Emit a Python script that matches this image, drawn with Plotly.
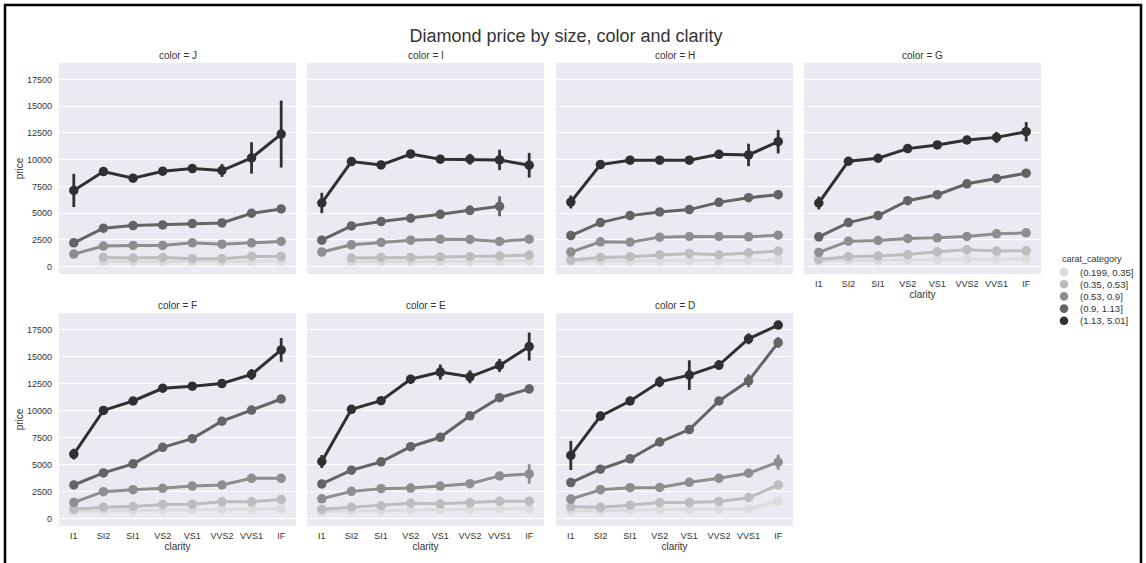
import plotly.graph_objects as go

# ---------------- data ----------------
clarity = ["I1", "SI2", "SI1", "VS2", "VS1", "VVS2", "VVS1", "IF"]
diamond_colors = ["J", "I", "H", "G", "F", "E", "D"]
carat_categories = ["(0.199, 0.35]", "(0.35, 0.53]", "(0.53, 0.9]", "(0.9, 1.13]", "(1.13, 5.01]"]
y_ticks = [0, 2500, 5000, 7500, 10000, 12500, 15000, 17500]
y_tick_labels = ["0", "2500", "5000", "7500", "10000", "12500", "15000", "17500"]

# mean price per carat category (rows: lightest -> darkest), per clarity
price_J = [
    [None, 460, 470, 480, 470, 460, 500, 520],
    [None, 865, 805, 865, 745, 745, 960, 960],
    [1175, 1920, 1985, 1985, 2230, 2105, 2230, 2355],
    [2230, 3595, 3840, 3905, 4025, 4090, 4990, 5390],
    [7125, 8890, 8270, 8920, 9170, 8985, 10160, 12390],
]
err_J = [
    [0, 30, 30, 30, 30, 30, 40, 40],
    [0, 40, 40, 40, 40, 40, 60, 60],
    [80, 80, 60, 60, 80, 80, 100, 200],
    [150, 150, 100, 100, 150, 250, 400, 150],
    [1550, 350, 250, 300, 350, 600, 1470, 3130],
]
price_I = [
    [None, 460, 480, 490, 500, 510, 520, 540],
    [None, 805, 865, 865, 900, 930, 990, 1085],
    [1365, 2045, 2260, 2480, 2570, 2540, 2355, 2570],
    [2480, 3810, 4215, 4525, 4895, 5265, 5640, None],
    [5950, 9820, 9510, 10530, 10040, 10040, 9975, 9480],
]
err_I = [
    [0, 30, 30, 30, 30, 30, 30, 40],
    [0, 40, 40, 40, 40, 40, 50, 50],
    [60, 60, 60, 60, 60, 80, 80, 100],
    [100, 100, 100, 100, 150, 450, 930, 0],
    [950, 200, 200, 300, 250, 500, 950, 1150],
]
price_H = [
    [500, 520, 540, 560, 580, 560, 600, 620],
    [620, 865, 930, 1115, 1240, 1115, 1300, 1455],
    [1365, 2325, 2290, 2760, 2820, 2820, 2790, 2945],
    [2910, 4120, 4770, 5110, 5330, 6010, 6445, 6725],
    [6040, 9540, 9945, 9945, 9945, 10500, 10440, 11680],
]
err_H = [
    [40, 30, 30, 30, 30, 30, 30, 40],
    [60, 40, 40, 40, 40, 40, 50, 60],
    [80, 60, 60, 60, 60, 60, 80, 100],
    [100, 100, 100, 100, 100, 150, 300, 150],
    [600, 200, 150, 150, 150, 400, 1050, 1100],
]
price_G = [
    [560, 600, 620, 650, 680, 700, 700, 720],
    [680, 930, 990, 1145, 1395, 1580, 1455, 1485],
    [1330, 2385, 2445, 2635, 2695, 2820, 3065, 3160],
    [2790, 4120, 4770, 6165, 6725, 7745, 8240, 8735],
    [5950, 9850, 10130, 11030, 11370, 11835, 12080, 12610],
]
err_G = [
    [40, 30, 30, 30, 30, 30, 30, 40],
    [60, 40, 40, 40, 40, 40, 50, 60],
    [80, 60, 60, 60, 60, 60, 80, 100],
    [100, 100, 100, 100, 100, 150, 150, 150],
    [600, 300, 250, 200, 200, 350, 500, 900],
]
price_F = [
    [680, 720, 760, 800, 820, 860, 880, 920],
    [870, 1055, 1120, 1305, 1335, 1555, 1555, 1775],
    [1495, 2490, 2675, 2800, 3015, 3110, 3730, 3730],
    [3110, 4230, 5070, 6595, 7400, 9020, 10045, 11070],
    [5970, 10015, 10885, 12065, 12255, 12500, 13340, 15610],
]
err_F = [
    [40, 30, 30, 30, 30, 30, 30, 40],
    [60, 40, 40, 40, 40, 40, 50, 80],
    [150, 60, 60, 60, 60, 60, 100, 250],
    [100, 100, 100, 150, 150, 150, 200, 200],
    [500, 300, 300, 300, 350, 400, 500, 1100],
]
price_E = [
    [650, 700, 760, 820, 830, 860, 900, 920],
    [870, 1055, 1180, 1430, 1370, 1460, 1615, 1615],
    [1835, 2520, 2770, 2830, 3015, 3235, 3950, 4135],
    [3205, 4480, 5255, 6655, 7525, 9515, 11195, 12005],
    [5285, 10110, 10915, 12905, 13560, 13125, 14180, 15925],
]
err_E = [
    [40, 30, 30, 30, 30, 30, 30, 40],
    [60, 40, 40, 40, 40, 40, 50, 80],
    [100, 60, 60, 60, 60, 60, 100, 900],
    [100, 100, 100, 100, 150, 200, 300, 400],
    [600, 300, 300, 400, 700, 600, 600, 1300],
]
price_D = [
    [700, 720, 780, 840, 860, 880, 900, 1620],
    [1090, 1055, 1245, 1495, 1495, 1585, 1930, 3110],
    [1805, 2675, 2860, 2890, 3360, 3730, 4200, 5225],
    [3330, 4570, 5535, 7090, 8240, 10885, 12750, 16295],
    [5845, 9485, 10885, 12660, 13280, 14215, 16640, 17915],
]
err_D = [
    [40, 30, 30, 30, 30, 30, 30, 100],
    [60, 40, 40, 40, 40, 40, 80, 200],
    [100, 60, 60, 60, 80, 80, 150, 700],
    [100, 100, 100, 150, 150, 200, 600, 500],
    [1350, 400, 300, 500, 1370, 450, 500, 150],
]

prices = [price_J, price_I, price_H, price_G, price_F, price_E, price_D]
errors = [err_J, err_I, err_H, err_G, err_F, err_E, err_D]

# ---------------- style ----------------
palette = ["#dcdcdc", "#bdbdbd", "#8e8e8e", "#646464", "#303030"]
W, H = 1146, 563
FONT = "Liberation Sans, Arial, sans-serif"
TXT = "#333333"

col_x = [(59, 296), (307, 544), (556, 793), (804, 1041)]
row_y = [(63, 274), (313, 526)]
row_title_y = [55, 305]
y_range = [-685, 19030]


def fx(px):
    return px / W


def fy(py):
    return 1 - py / H


fig = go.Figure()
annotations = []

for i, dc in enumerate(diamond_colors):
    n = i + 1
    r, c = divmod(i, 4)
    xa = "x" if n == 1 else f"x{n}"
    ya = "y" if n == 1 else f"y{n}"
    for k, cat in enumerate(carat_categories):
        fig.add_trace(go.Scatter(
            x=clarity, y=prices[i][k], xaxis=xa, yaxis=ya,
            mode="lines+markers", name=cat, showlegend=False,
            line=dict(color=palette[k], width=3),
            marker=dict(color=palette[k], size=9.5),
            error_y=dict(type="data", array=errors[i][k], visible=True,
                         color=palette[k], thickness=2.8, width=0),
            connectgaps=False,
        ))
    x0, x1 = col_x[c]
    y0, y1 = row_y[r]
    show_x = (r == 1) or (i == 3)
    show_y = (c == 0)
    fig.layout[f"xaxis{'' if n == 1 else n}"] = dict(
        domain=[fx(x0), fx(x1)], anchor=ya, type="category",
        categoryorder="array", categoryarray=clarity,
        range=[-0.5, len(clarity) - 0.5], showgrid=False, zeroline=False,
        showline=False, ticks="", showticklabels=show_x,
        tickfont=dict(size=9, color=TXT, family=FONT), ticklabelstandoff=3,
        title=dict(text="clarity" if show_x else "", font=dict(size=10, color=TXT, family=FONT), standoff=2),
    )
    fig.layout[f"yaxis{'' if n == 1 else n}"] = dict(
        domain=[fy(y1), fy(y0)], anchor=xa, range=y_range,
        tickvals=y_ticks, ticktext=y_tick_labels, showgrid=True,
        gridcolor="white", gridwidth=1, zeroline=False, showline=False, ticks="",
        showticklabels=show_y, tickfont=dict(size=9, color=TXT, family=FONT),
        ticklabelstandoff=6,
        title=dict(text="price" if show_y else "", font=dict(size=10, color=TXT, family=FONT), standoff=1),
    )
    annotations.append(dict(
        text=f"color = {dc}", x=fx((x0 + x1) / 2), y=fy(row_title_y[r]), xref="paper", yref="paper",
        xanchor="center", yanchor="middle", showarrow=False,
        font=dict(size=10, color=TXT, family=FONT),
    ))

# legend (drawn manually to match compact seaborn legend)
shapes = []
annotations.append(dict(
    text="carat_category", x=fx(1092), y=fy(259), xref="paper", yref="paper",
    xanchor="center", yanchor="middle", showarrow=False,
    font=dict(size=9, color=TXT, family=FONT),
))
for k, cat in enumerate(carat_categories):
    cy = 272 + 12.2 * k
    cx = 1064
    shapes.append(dict(type="circle", xref="paper", yref="paper",
                       x0=fx(cx - 4.3), x1=fx(cx + 4.3), y0=fy(cy + 4.3), y1=fy(cy - 4.3),
                       fillcolor=palette[k], line=dict(width=0)))
    annotations.append(dict(
        text=cat, x=fx(1078), y=fy(cy), xref="paper", yref="paper",
        xanchor="left", yanchor="middle", showarrow=False,
        font=dict(size=9.5, color=TXT, family=FONT),
    ))

# screenshot frame
for (a, b, c2, d) in [(4, 5, 1142, 5), (5, 4, 5, 563), (1141, 4, 1141, 563)]:
    shapes.append(dict(type="line", xref="paper", yref="paper",
                       x0=fx(a), y0=fy(b), x1=fx(c2), y1=fy(d),
                       line=dict(color="black", width=2.5), layer="above"))

fig.update_layout(
    width=W, height=H, margin=dict(l=0, r=0, t=0, b=0, pad=0),
    paper_bgcolor="white", plot_bgcolor="#EAEAF2",
    showlegend=False,
    title=dict(text="Diamond price by size, color and clarity", x=fx(566), y=fy(36),
               xanchor="center", yanchor="middle", xref="paper", yref="paper",
               font=dict(size=18, color=TXT, family=FONT)),
    annotations=annotations, shapes=shapes,
    font=dict(family=FONT, color=TXT),
)

fig.write_html("out.html", config={"displayModeBar": False},
               post_script="document.body.style.margin='0';document.body.style.overflow='hidden';")
